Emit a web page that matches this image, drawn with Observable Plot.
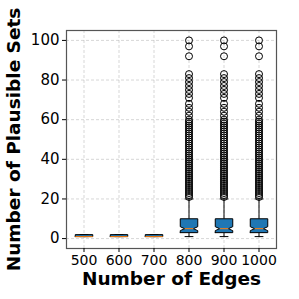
<!DOCTYPE html>
<html><head><meta charset="utf-8">
<script src="https://cdn.jsdelivr.net/npm/d3@7"></script>
<script src="https://cdn.jsdelivr.net/npm/@observablehq/plot@0.6"></script>
<style>
body{margin:0;background:#fff;}
svg{font-family:"DejaVu Sans",sans-serif;}
</style></head>
<body><div id="chart"></div>
<script>
const categories = ["500","600","700","800","900","1000"];
const q1 = [1,1,1,3,3,3];
const median = [1,1,1,5,5,5];
const q3 = [2,2,2,10,10,10];
const whiskerLow = [1,1,1,1,1,1];
const whiskerHigh = [2,2,2,20,20,20];
const notch = [0,0,0,1,1,1];
const outliers800 = [21,22,23,24,25,26,27,28,29,30,31,32,33,34,35,36,37,38,39,40,41,42,43,44,45,46,47,48,49,50,51,52,53,54,55,56,57,58,59,60,62,64,66,68,71,73,75,77,79,81,83,92,97,100];
const outliers900 = [21,22,23,24,25,26,27,28,29,30,31,32,33,34,35,36,37,38,39,40,41,42,43,44,45,46,47,48,49,50,51,52,53,54,55,56,57,58,59,60,62,64,66,68,71,73,75,77,79,81,83,92,97,100];
const outliers1000 = [21,22,23,24,25,26,27,28,29,30,31,32,33,34,35,36,37,38,39,40,41,42,43,44,45,46,47,48,49,50,51,52,53,54,55,56,57,58,59,60,62,64,66,68,71,73,75,77,79,81,83,92,97,100];
const outlierLists = [[],[],[],outliers800,outliers900,outliers1000];
const yTicks = [0,20,40,60,80,100];

const W = 0.25, CAP = 0.125;
const boxPts = [];
categories.forEach((c,i)=>{
  let pts;
  if (notch[i] > 0) {
    pts = [[i-W,q1[i]],[i-W,median[i]-notch[i]],[i-W/2,median[i]],[i-W,median[i]+notch[i]],[i-W,q3[i]],
           [i+W,q3[i]],[i+W,median[i]+notch[i]],[i+W/2,median[i]],[i+W,median[i]-notch[i]],[i+W,q1[i]],[i-W,q1[i]]];
  } else {
    pts = [[i-W,q1[i]],[i-W,q3[i]],[i+W,q3[i]],[i+W,q1[i]],[i-W,q1[i]]];
  }
  pts.forEach(p=>boxPts.push({box:c,x:p[0],y:p[1]}));
});
const stats = categories.map((c,i)=>({i,c,q1:q1[i],med:median[i],q3:q3[i],lo:whiskerLow[i],hi:whiskerHigh[i],mw:notch[i]>0?W/2:W}));
const outl = [];
outlierLists.forEach((l,i)=>l.forEach(v=>outl.push({i,v})));

const chart = Plot.plot({
  width:299, height:299,
  marginLeft:66, marginRight:23, marginTop:30, marginBottom:51,
  style:{fontFamily:"DejaVu Sans, sans-serif", fontSize:"14px", color:"#000", background:"#fff"},
  x:{type:"linear", domain:[-0.5,5.5]},
  y:{domain:[-5,105]},
  marks:[
    Plot.gridY(yTicks,{stroke:"#b0b0b0", strokeOpacity:0.5, strokeDasharray:"3,2"}),
    Plot.gridX(d3.range(categories.length),{stroke:"#b0b0b0", strokeOpacity:0.5, strokeDasharray:"3,2"}),
    Plot.link(stats,{x1:"i",x2:"i",y1:"q3",y2:"hi",stroke:"#000",strokeWidth:1}),
    Plot.link(stats,{x1:"i",x2:"i",y1:"q1",y2:"lo",stroke:"#000",strokeWidth:1}),
    Plot.link(stats,{x1:d=>d.i-CAP,x2:d=>d.i+CAP,y1:"hi",y2:"hi",stroke:"#000",strokeWidth:1}),
    Plot.link(stats,{x1:d=>d.i-CAP,x2:d=>d.i+CAP,y1:"lo",y2:"lo",stroke:"#000",strokeWidth:1}),
    Plot.line(boxPts,{x:"x",y:"y",z:"box",fill:"#1f77b4",stroke:"#000",strokeWidth:1,curve:"linear"}),
    Plot.link(stats,{x1:d=>d.i-d.mw,x2:d=>d.i+d.mw,y1:"med",y2:"med",stroke:"#ff7f0e",strokeWidth:1}),
    Plot.dot(outl,{x:"i",y:"v",r:3.5,stroke:"#000",fill:"none",strokeWidth:1}),
    Plot.frame({stroke:"#555",strokeWidth:1.2}),
    Plot.axisY(yTicks,{tickSize:4,tickPadding:3,fontSize:15,label:null,stroke:"#000"}),
    Plot.axisX(d3.range(categories.length),{tickSize:4,tickPadding:3,fontSize:14,label:null,tickFormat:i=>categories[i]}),
    Plot.text(["Number of Plausible Sets"],{frameAnchor:"left",textAnchor:"middle",lineAnchor:"middle",rotate:-90,dx:-52,fontSize:18.5,fontWeight:"bold"}),
    Plot.text(["Number of Edges"],{frameAnchor:"bottom",textAnchor:"middle",lineAnchor:"middle",dy:31,fontSize:18.5,fontWeight:"bold"})
  ]
});
document.getElementById("chart").appendChild(chart);
</script></body></html>
